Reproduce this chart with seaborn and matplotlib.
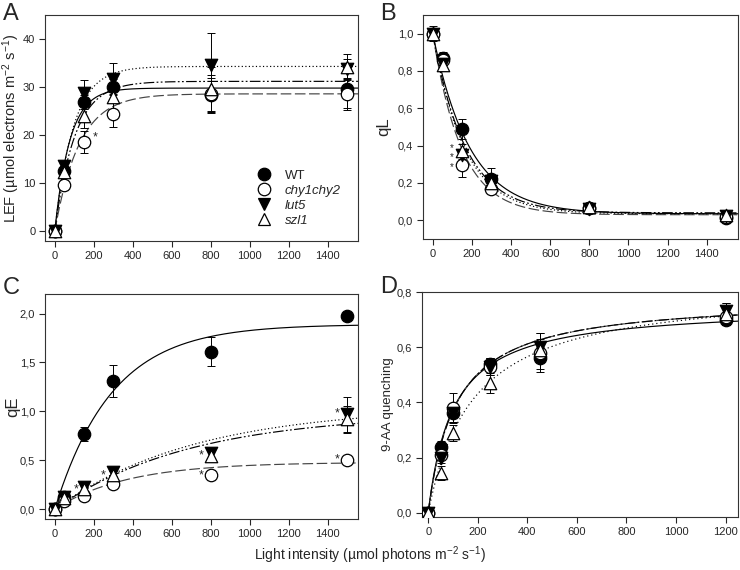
import numpy as np
import pandas as pd
import matplotlib
matplotlib.use("Agg")
import matplotlib.pyplot as plt
import seaborn as sns
from matplotlib.ticker import FuncFormatter, MultipleLocator
from matplotlib.lines import Line2D

# ---------------- data ----------------
genotypes = ["WT", "chy1chy2", "lut5", "szl1"]
x_abc = [0, 50, 150, 300, 800, 1500]
x_d = [0, 50, 100, 250, 450, 1200]

# Panel A: LEF
lef_wt = [0.0, 12.6, 26.9, 30.1, 28.3, 29.7]
lef_chy = [0.0, 9.6, 18.6, 24.5, 28.6, 28.5]
lef_lut5 = [0.0, 13.5, 28.7, 31.7, 34.7, 33.8]
lef_szl1 = [0.0, 12.4, 23.9, 28.0, 29.6, 34.1]
lef_err_wt = [0.3, 1.0, 1.5, 1.5, 3.5, 4.0]
lef_err_chy = [0.3, 1.0, 2.3, 2.7, 4.0, 3.2]
lef_err_lut5 = [0.3, 1.0, 2.7, 3.3, 6.5, 2.0]
lef_err_szl1 = [0.3, 1.0, 2.5, 2.5, 4.5, 2.7]
# fitted rise-to-max curves (max, rate)
lef_fit_max = [29.8, 28.6, 34.3, 31.2]
lef_fit_rate = [0.013, 0.008, 0.0105, 0.0098]

# Panel B: qL
ql_wt = [1.0, 0.87, 0.49, 0.22, 0.068, 0.014]
ql_chy = [1.0, 0.86, 0.295, 0.17, 0.065, 0.02]
ql_lut5 = [1.0, 0.84, 0.35, 0.21, 0.06, 0.022]
ql_szl1 = [1.0, 0.83, 0.37, 0.20, 0.07, 0.03]
ql_err_wt = [0.02, 0.03, 0.055, 0.06, 0.01, 0.01]
ql_err_chy = [0.02, 0.03, 0.065, 0.02, 0.01, 0.01]
ql_err_lut5 = [0.02, 0.03, 0.03, 0.03, 0.01, 0.01]
ql_err_szl1 = [0.04, 0.03, 0.04, 0.03, 0.01, 0.01]
# fitted decay curves (offset, amplitude, rate)
ql_fit_off = [0.035, 0.03, 0.035, 0.04]
ql_fit_amp = [0.965, 0.97, 0.965, 0.96]
ql_fit_rate = [0.0053, 0.0068, 0.0062, 0.0060]

# Panel C: qE
qe_wt = [0.0, 0.12, 0.77, 1.31, 1.61, 1.98]
qe_chy = [0.0, 0.08, 0.14, 0.26, 0.35, 0.50]
qe_lut5 = [0.0, 0.12, 0.23, 0.38, 0.57, 0.97]
qe_szl1 = [0.0, 0.11, 0.21, 0.35, 0.54, 0.92]
qe_err_wt = [0.01, 0.02, 0.07, 0.16, 0.15, 0.02]
qe_err_chy = [0.01, 0.02, 0.03, 0.02, 0.05, 0.02]
qe_err_lut5 = [0.01, 0.02, 0.05, 0.04, 0.05, 0.18]
qe_err_szl1 = [0.01, 0.02, 0.04, 0.04, 0.05, 0.14]
qe_fit_max = [1.89, 0.48, 1.05, 0.98]
qe_fit_rate = [0.0034, 0.0027, 0.0014, 0.00145]

# Panel D: 9-AA quenching
aa_wt = [0.0, 0.24, 0.36, 0.54, 0.56, 0.70]
aa_chy = [0.0, 0.21, 0.38, 0.53, 0.58, 0.71]
aa_lut5 = [0.0, 0.20, 0.36, 0.53, 0.60, 0.73]
aa_szl1 = [0.0, 0.145, 0.29, 0.47, 0.59, 0.72]
aa_err_wt = [0.01, 0.02, 0.03, 0.02, 0.04, 0.02]
aa_err_chy = [0.01, 0.02, 0.055, 0.03, 0.07, 0.03]
aa_err_lut5 = [0.01, 0.02, 0.03, 0.03, 0.05, 0.03]
aa_err_szl1 = [0.01, 0.025, 0.03, 0.035, 0.04, 0.04]
# fitted hyperbolic curves (max, half-saturation)
aa_fit_max = [0.75, 0.78, 0.78, 0.82]
aa_fit_half = [100, 110, 110, 180]

# significance asterisks
ast_a_x = [205]
ast_a_y = [19.5]
ast_b_x = [97, 97, 97]
ast_b_y = [0.386, 0.338, 0.284]
ast_c_x = [25, 108, 246, 752, 752, 1446, 1446]
ast_c_y = [0.05, 0.198, 0.35, 0.55, 0.35, 0.98, 0.506]

# ---------------- styling ----------------
sns.set_style("ticks")
plt.rcParams["font.family"] = ["Liberation Sans", "DejaVu Sans"]
plt.rcParams["mathtext.fontset"] = "custom"
plt.rcParams["mathtext.rm"] = "Liberation Sans"
plt.rcParams["mathtext.it"] = "Liberation Sans:italic"
plt.rcParams["mathtext.default"] = "regular"

markers = {"WT": "o", "chy1chy2": "o", "lut5": "v", "szl1": "^"}
faces = {"WT": "black", "chy1chy2": "white", "lut5": "black", "szl1": "white"}
ls_main = {"WT": "-", "chy1chy2": (0, (9, 3)), "lut5": (0, (1, 2)),
           "szl1": (0, (9, 2, 1.5, 2, 1.5, 2))}
ls_d = {"WT": "-", "chy1chy2": (0, (9, 3)), "lut5": (0, (9, 2, 1.5, 2)),
        "szl1": (0, (1, 2.5))}
line_col = {"WT": "black", "chy1chy2": "#444444", "lut5": "black", "szl1": "black"}


def make_df(x, series, errs):
    rows = []
    for g, ys, es in zip(genotypes, series, errs):
        for xi, yi, ei in zip(x, ys, es):
            rows.append({"x": xi, "y": yi, "err": ei, "genotype": g})
    return pd.DataFrame(rows)


def make_curve(xmax, func, params):
    xs = np.linspace(0, xmax, 400)
    rows = []
    for g, p in zip(genotypes, params):
        for xi, yi in zip(xs, func(xs, *p)):
            rows.append({"x": xi, "y": yi, "genotype": g})
    return pd.DataFrame(rows)


def rise(x, a, b):
    return a * (1 - np.exp(-b * x))


def decay(x, c, a, b):
    return c + a * np.exp(-b * x)


def hyper(x, a, k):
    return a * x / (k + x)


comma = FuncFormatter(lambda v, p: f"{v:.1f}".replace(".", ","))
intfmt = FuncFormatter(lambda v, p: f"{v:.0f}")


def draw(ax, df, curve, lstyles, xlim, ylim, ystep, yfmt, ylabel, ylabel_size,
         label_x):
    for g in genotypes:
        c = curve[curve.genotype == g]
        sns.lineplot(data=c, x="x", y="y", ax=ax, color=line_col[g],
                     linestyle=lstyles[g], linewidth=0.85, zorder=2,
                     legend=False, estimator=None, sort=False)
    for g in genotypes:
        d = df[df.genotype == g]
        ax.errorbar(d.x, d.y, yerr=d.err, fmt="none", ecolor="black",
                    elinewidth=0.7, capsize=3, capthick=0.7, zorder=3)
        sns.scatterplot(data=d, x="x", y="y", ax=ax, marker=markers[g],
                        s=80, color=faces[g], edgecolor="black",
                        linewidth=0.9, zorder=4, legend=False)
    ax.set_xlim(*xlim)
    ax.set_ylim(*ylim)
    ax.xaxis.set_major_locator(MultipleLocator(200))
    ax.yaxis.set_major_locator(MultipleLocator(ystep))
    ax.yaxis.set_major_formatter(yfmt)
    ax.set_xlabel("")
    ax.set_ylabel(ylabel, fontsize=ylabel_size)
    ax.yaxis.set_label_coords(label_x, 0.5)
    ax.tick_params(axis="both", labelsize=8, length=4, width=0.8,
                   direction="out", top=False, right=False, pad=3)
    for sp in ax.spines.values():
        sp.set_visible(True)
        sp.set_linewidth(0.8)
        sp.set_color("#333333")


fig = plt.figure(figsize=(7.4, 5.7), dpi=100)
axA = fig.add_axes([0.0608, 0.5772, 0.423, 0.3965])
axB = fig.add_axes([0.5716, 0.5807, 0.4257, 0.393])
axC = fig.add_axes([0.0608, 0.0895, 0.423, 0.3947])
axD = fig.add_axes([0.5703, 0.093, 0.427, 0.3947])

dfA = make_df(x_abc, [lef_wt, lef_chy, lef_lut5, lef_szl1],
              [lef_err_wt, lef_err_chy, lef_err_lut5, lef_err_szl1])
cA = make_curve(1560, rise, list(zip(lef_fit_max, lef_fit_rate)))
draw(axA, dfA, cA, ls_main, (-50, 1555), (-2, 45), 10, intfmt,
     "LEF (µmol electrons m$^{-2}$ s$^{-1}$)", 10.5, -0.075)

dfB = make_df(x_abc, [ql_wt, ql_chy, ql_lut5, ql_szl1],
              [ql_err_wt, ql_err_chy, ql_err_lut5, ql_err_szl1])
cB = make_curve(1560, decay, list(zip(ql_fit_off, ql_fit_amp, ql_fit_rate)))
draw(axB, dfB, cB, ls_main, (-50, 1560), (-0.1, 1.1), 0.2, comma, "qL", 12,
     -0.10)

dfC = make_df(x_abc, [qe_wt, qe_chy, qe_lut5, qe_szl1],
              [qe_err_wt, qe_err_chy, qe_err_lut5, qe_err_szl1])
cC = make_curve(1560, rise, list(zip(qe_fit_max, qe_fit_rate)))
draw(axC, dfC, cC, ls_main, (-50, 1555), (-0.1, 2.2), 0.5, comma, "qE", 12,
     -0.08)

dfD = make_df(x_d, [aa_wt, aa_chy, aa_lut5, aa_szl1],
              [aa_err_wt, aa_err_chy, aa_err_lut5, aa_err_szl1])
cD = make_curve(1250, hyper, list(zip(aa_fit_max, aa_fit_half)))
draw(axD, dfD, cD, ls_d, (-25, 1250), (-0.015, 0.8), 0.2, comma,
     "9-AA quenching", 9.5, -0.09)

for ax, xs, ys, fs in [(axA, ast_a_x, ast_a_y, 9), (axB, ast_b_x, ast_b_y, 7),
                       (axC, ast_c_x, ast_c_y, 9)]:
    for xi, yi in zip(xs, ys):
        ax.text(xi, yi, "*", ha="center", va="center", fontsize=fs, zorder=5)

# legend
handles = [Line2D([], [], linestyle="none", marker=markers[g], markersize=9,
                  markerfacecolor=faces[g], markeredgecolor="black",
                  markeredgewidth=0.9) for g in genotypes]
leg = axA.legend(handles, genotypes, loc="lower left",
                 bbox_to_anchor=(0.64, 0.04), frameon=False, fontsize=9.5,
                 handletextpad=0.6, labelspacing=0.2, borderaxespad=0)
for t in leg.get_texts()[1:]:
    t.set_style("italic")

# panel letters
for lbl, (xp, yp) in {"A": (3, 3), "B": (380, 3), "C": (3, 277), "D": (380, 276)}.items():
    fig.text(xp / 740, 1 - yp / 570, lbl, fontsize=17, ha="left", va="top")

fig.text(0.5, 1 - 555 / 570, "Light intensity (µmol photons m$^{-2}$ s$^{-1}$)",
         ha="center", va="center", fontsize=10)

fig.savefig("out.png", dpi=100)
